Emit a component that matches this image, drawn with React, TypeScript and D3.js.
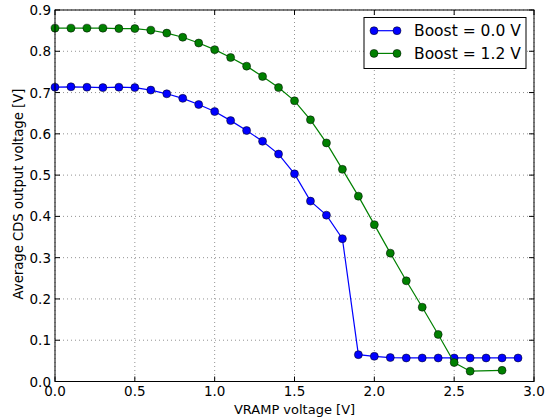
import React from "react";
import * as d3 from "d3";

const xBlue = [0.0,0.1,0.2,0.3,0.4,0.5,0.6,0.7,0.8,0.9,1.0,1.1,1.2,1.3,1.4,1.5,1.6,1.7,1.8,1.9,2.0,2.1,2.2,2.3,2.4,2.5,2.6,2.7,2.8,2.9];
const yBlue = [0.713,0.714,0.713,0.712,0.713,0.712,0.706,0.697,0.686,0.671,0.654,0.632,0.608,0.582,0.551,0.503,0.437,0.403,0.346,0.065,0.061,0.058,0.057,0.057,0.057,0.057,0.057,0.057,0.057,0.057];
const xGreen = [0.0,0.1,0.2,0.3,0.4,0.5,0.6,0.7,0.8,0.9,1.0,1.1,1.2,1.3,1.4,1.5,1.6,1.7,1.8,1.9,2.0,2.1,2.2,2.3,2.4,2.5,2.6,2.8];
const yGreen = [0.856,0.856,0.856,0.856,0.855,0.855,0.851,0.844,0.834,0.820,0.804,0.785,0.764,0.739,0.712,0.680,0.634,0.578,0.514,0.449,0.380,0.311,0.244,0.180,0.114,0.046,0.025,0.027];
const xTicks = [0.0,0.5,1.0,1.5,2.0,2.5,3.0];
const yTicks = [0.0,0.1,0.2,0.3,0.4,0.5,0.6,0.7,0.8,0.9];
const seriesNames = ["Boost = 0.0 V", "Boost = 1.2 V"];
const seriesColors = ["#0000ff", "#008000"];

export default function App() {
  const W = 554, H = 419;
  const L = 55, R = 534, T = 10, B = 381.5;
  const x = d3.scaleLinear().domain([0, 3]).range([L, R]);
  const y = d3.scaleLinear().domain([0, 0.9]).range([B, T]);
  const line = d3.line<[number, number]>().x(d => x(d[0])).y(d => y(d[1]));
  const series = [
    xBlue.map((v, i) => [v, yBlue[i]] as [number, number]),
    xGreen.map((v, i) => [v, yGreen[i]] as [number, number]),
  ];
  const font = "DejaVu Sans, sans-serif";
  return (
    <svg width={W} height={H} style={{ position: "absolute", left: 0, top: 0, background: "#fff" }} fontFamily={font}>
      <rect x={0} y={0} width={W} height={H} fill="#fff" />
      {/* grid */}
      {xTicks.map((t, i) => (
        <line key={"gx" + i} x1={x(t)} x2={x(t)} y1={T} y2={B} stroke="#777" strokeWidth={0.8} strokeDasharray="1,3" />
      ))}
      {yTicks.map((t, i) => (
        <line key={"gy" + i} x1={L} x2={R} y1={y(t)} y2={y(t)} stroke="#777" strokeWidth={0.8} strokeDasharray="1,3" />
      ))}
      {/* series */}
      {series.map((s, si) => (
        <g key={"s" + si}>
          <path d={line(s) || ""} fill="none" stroke={seriesColors[si]} strokeWidth={1.2} />
          {s.map((p, pi) => (
            <circle key={pi} cx={x(p[0])} cy={y(p[1])} r={4} fill={seriesColors[si]} stroke="#000" strokeWidth={0.5} />
          ))}
        </g>
      ))}
      {/* ticks */}
      {xTicks.map((t, i) => (
        <g key={"tx" + i}>
          <line x1={x(t)} x2={x(t)} y1={B} y2={B - 5} stroke="#000" strokeWidth={1} />
          <line x1={x(t)} x2={x(t)} y1={T} y2={T + 5} stroke="#000" strokeWidth={1} />
          <text x={x(t)} y={396} textAnchor="middle" fontSize={13.5} fill="#000">{t.toFixed(1)}</text>
        </g>
      ))}
      {yTicks.map((t, i) => (
        <g key={"ty" + i}>
          <line x1={L} x2={L + 5} y1={y(t)} y2={y(t)} stroke="#000" strokeWidth={1} />
          <line x1={R} x2={R - 5} y1={y(t)} y2={y(t)} stroke="#000" strokeWidth={1} />
          <text x={51} y={y(t) + 5} textAnchor="end" fontSize={13.5} fill="#000">{t.toFixed(1)}</text>
        </g>
      ))}
      <rect x={L} y={T} width={R - L} height={B - T} fill="none" stroke="#000" strokeWidth={1} />
      {/* axis labels */}
      <text x={(L + R) / 2} y={414} textAnchor="middle" fontSize={13} fill="#000">VRAMP voltage [V]</text>
      <text transform={`translate(23,194) rotate(-90)`} textAnchor="middle" fontSize={13.2} fill="#000">Average CDS output voltage [V]</text>
      {/* legend */}
      <rect x={364} y={17.5} width={162} height={51} fill="#fff" stroke="#000" strokeWidth={1} />
      {seriesNames.map((n, i) => {
        const ly = 30.7 + i * 22.7;
        return (
          <g key={"lg" + i}>
            <line x1={374} x2={397} y1={ly} y2={ly} stroke={seriesColors[i]} strokeWidth={1.2} />
            <circle cx={374} cy={ly} r={4} fill={seriesColors[i]} stroke="#000" strokeWidth={0.5} />
            <circle cx={397} cy={ly} r={4} fill={seriesColors[i]} stroke="#000" strokeWidth={0.5} />
            <text x={414} y={ly + 5.5} fontSize={15.5} fill="#000">{n}</text>
          </g>
        );
      })}
    </svg>
  );
}
